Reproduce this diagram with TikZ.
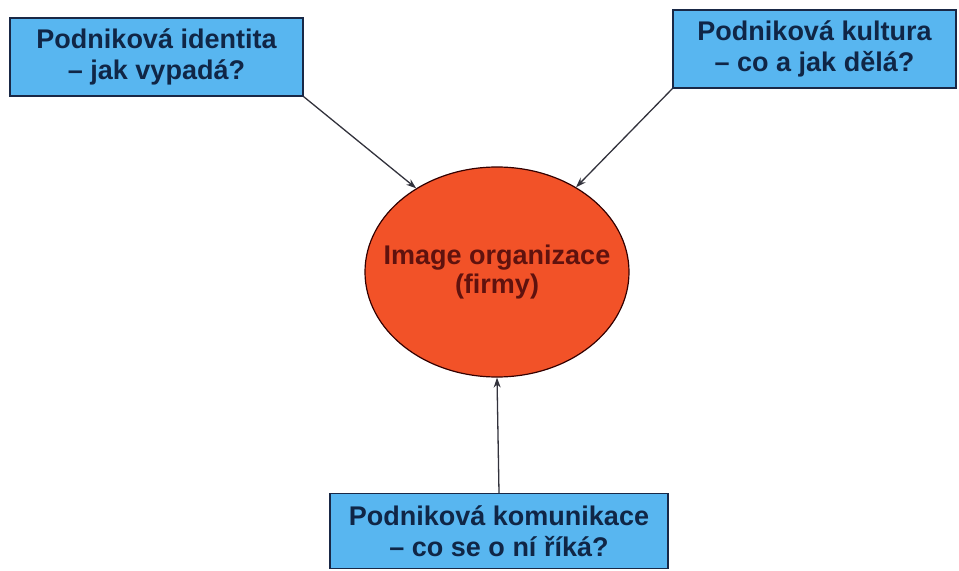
\documentclass[tikz,border=0pt]{standalone}
\usepackage{fontspec}
\setmainfont{Liberation Sans}
\usetikzlibrary{shapes.geometric,arrows.meta}
\definecolor{boxblue}{RGB}{88,182,240}
\definecolor{boxtext}{RGB}{16,38,70}
\definecolor{boxedge}{RGB}{25,40,70}
\definecolor{circfill}{RGB}{242,82,40}
\definecolor{circtext}{RGB}{95,18,14}
\definecolor{linecol}{RGB}{50,50,60}
\tikzset{
  qbox/.style={draw=boxedge, line width=1.4bp, fill=boxblue, text=boxtext,
    font=\fontsize{27bp}{31bp}\selectfont\bfseries, align=center, inner sep=0pt},
  core/.style={ellipse, draw=black!80!red, line width=1.2bp, fill=circfill, inner sep=0pt},
  coretext/.style={text=circtext, font=\fontsize{27bp}{29bp}\selectfont\bfseries, align=center, inner sep=0pt},
  conn/.style={draw=linecol, line width=1.3bp, -{Stealth[length=10bp,width=7bp]}}
}
\begin{document}
\begin{tikzpicture}[x=1bp,y=-1bp]
\useasboundingbox (0,0) rectangle (959,571);
\node[qbox, minimum width=293bp, minimum height=78bp] (b1) at (156.5,57) {Podniková identita\\– jak vypadá?};
\node[qbox, minimum width=283bp, minimum height=78bp] (b2) at (814.5,49) {Podniková kultura\\– co a jak dělá?};
\node[qbox, minimum width=338bp, minimum height=75bp] (b3) at (499,531) {Podniková komunikace\\– co se o ní říká?};
\node[core, minimum width=264bp, minimum height=210bp] (c) at (497,272) {};
\node[coretext] (ct) at (c.center) {Image organizace\\(firmy)};
\draw[conn] (b1.south east) -- (c.134);
\draw[conn] (b2.south west) -- (c.47);
\draw[conn] (b3.north) -- (c.south);
\end{tikzpicture}
\end{document}
